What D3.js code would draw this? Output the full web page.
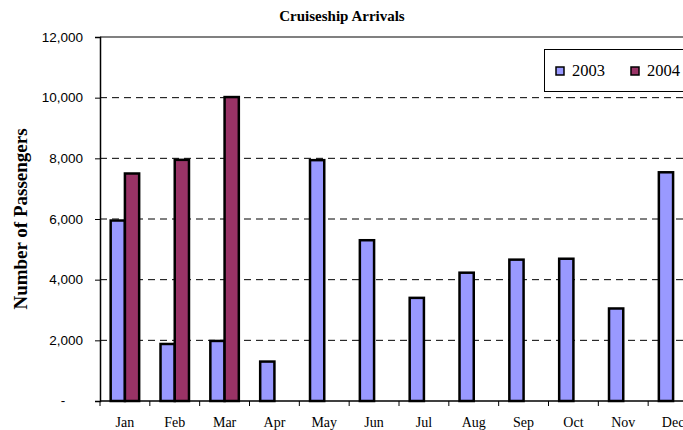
<!DOCTYPE html>
<meta charset="utf-8">
<title>Cruiseship Arrivals</title>
<script src="https://d3js.org/d3.v7.min.js"></script>
<style>
  body { margin: 0; background: #fff; }
  svg { display: block; }
</style>
<body>
<div id="chart"></div>
<script>
  // data
  var months = ["Jan","Feb","Mar","Apr","May","Jun","Jul","Aug","Sep","Oct","Nov","Dec"];
  var years = ["2003","2004"];
  var values2003 = [5950, 1880, 1980, 1300, 7940, 5300, 3400, 4230, 4660, 4690, 3050, 7540];
  var values2004 = [7500, 7950, 10020, null, null, null, null, null, null, null, null, null];
  var yTicks = [0, 2000, 4000, 6000, 8000, 10000, 12000];
  var colors = {"2003": "#9999ff", "2004": "#993366"};

  var W = 683, H = 430;
  var plotLeft = 100, plotTop = 37, plotBottom = 401, plotRight = 698;

  var svg = d3.select("#chart").append("svg")
      .attr("width", W)
      .attr("height", H);

  var x = d3.scaleBand()
    .domain(months)
    .range([plotLeft, plotRight])
    .paddingInner(1.5 / 3.5)
    .paddingOuter(0.75 / 3.5);

  var x1 = d3.scaleBand()
    .domain(years)
    .range([0, x.bandwidth()]);

  var y = d3.scaleLinear()
    .domain([0, 12000])
    .range([plotBottom, plotTop]);

  // top border of plot area
  svg.append("line")
    .attr("x1", plotLeft).attr("x2", W)
    .attr("y1", y(12000)).attr("y2", y(12000))
    .attr("stroke", "#808080")
    .attr("stroke-width", 2);

  // dashed gridlines
  svg.append("g")
    .selectAll("line")
    .data(yTicks.filter(d => d > 0 && d < 12000))
    .join("line")
    .attr("x1", plotLeft)
    .attr("x2", W)
    .attr("y1", d => y(d))
    .attr("y2", d => y(d))
    .attr("stroke", "#000")
    .attr("stroke-width", 1)
    .attr("stroke-dasharray", "7,5");

  // bars
  var rows = months.map(function(m, i) {
    return {month: m, vals: [{year: "2003", v: values2003[i]}, {year: "2004", v: values2004[i]}]};
  });

  svg.append("g")
    .selectAll("g")
    .data(rows)
    .join("g")
    .attr("transform", d => "translate(" + x(d.month) + ",0)")
    .selectAll("rect")
    .data(d => d.vals.filter(v => v.v != null))
    .join("rect")
    .attr("x", d => x1(d.year))
    .attr("y", d => y(d.v))
    .attr("width", x1.bandwidth())
    .attr("height", d => y(0) - y(d.v))
    .attr("fill", d => colors[d.year])
    .attr("stroke", "#000")
    .attr("stroke-width", 2.5);

  // y axis
  var yAxis = svg.append("g")
    .attr("transform", "translate(" + plotLeft + ",0)")
    .call(d3.axisLeft(y).tickValues(yTicks).tickSize(5).tickPadding(12)
      .tickFormat(d => d === 0 ? "" : d3.format(",")(d)));
  yAxis.select(".domain").attr("stroke", "#000").attr("stroke-width", 1.5);
  yAxis.selectAll("text")
    .attr("font-family", "Liberation Sans, Arial, sans-serif")
    .attr("font-size", "13.5px")
    .attr("fill", "#000");

  // accounting-style dash for zero
  svg.append("text")
    .attr("x", 63)
    .attr("y", y(0))
    .attr("dy", "0.32em")
    .attr("text-anchor", "middle")
    .attr("font-family", "Liberation Sans, Arial, sans-serif")
    .attr("font-size", "13.5px")
    .text("-");

  // x axis
  var xAxis = svg.append("g")
    .attr("transform", "translate(0," + plotBottom + ")")
    .call(d3.axisBottom(x).tickSize(0).tickPadding(16));
  xAxis.select(".domain").remove();
  xAxis.selectAll("text")
    .attr("font-family", "Liberation Serif, Times New Roman, serif")
    .attr("font-size", "14px")
    .attr("fill", "#000");

  svg.append("line")
    .attr("x1", plotLeft).attr("x2", W)
    .attr("y1", plotBottom).attr("y2", plotBottom)
    .attr("stroke", "#000")
    .attr("stroke-width", 1.5);

  // ticks between categories
  svg.append("g")
    .selectAll("line")
    .data(months)
    .join("line")
    .attr("x1", d => x(d) - x.step() * x.paddingOuter())
    .attr("x2", d => x(d) - x.step() * x.paddingOuter())
    .attr("y1", plotBottom)
    .attr("y2", plotBottom + 5)
    .attr("stroke", "#000");

  // title
  svg.append("text")
    .attr("x", 342)
    .attr("y", 21)
    .attr("text-anchor", "middle")
    .attr("font-family", "Liberation Serif, Times New Roman, serif")
    .attr("font-weight", "bold")
    .attr("font-size", "15px")
    .text("Cruiseship Arrivals");

  // y title
  svg.append("text")
    .attr("transform", "translate(27," + ((plotTop + plotBottom) / 2) + ") rotate(-90)")
    .attr("text-anchor", "middle")
    .attr("font-family", "Liberation Serif, Times New Roman, serif")
    .attr("font-weight", "bold")
    .attr("font-size", "19px")
    .text("Number of Passengers");

  // legend
  var lg = svg.append("g");
  lg.append("rect")
    .attr("x", 544.5).attr("y", 49.5)
    .attr("width", 160).attr("height", 42)
    .attr("fill", "#fff")
    .attr("stroke", "#000");
  var items = lg.selectAll("g")
    .data(years)
    .join("g")
    .attr("transform", (d, i) => "translate(" + (556 + i * 75) + ",67)");
  items.append("rect")
    .attr("width", 8).attr("height", 8)
    .attr("fill", d => colors[d])
    .attr("stroke", "#000")
    .attr("stroke-width", 1.5);
  items.append("text")
    .attr("x", 16)
    .attr("y", 9)
    .attr("font-family", "Liberation Serif, Times New Roman, serif")
    .attr("font-size", "16.5px")
    .text(d => d);
</script>
</body>
